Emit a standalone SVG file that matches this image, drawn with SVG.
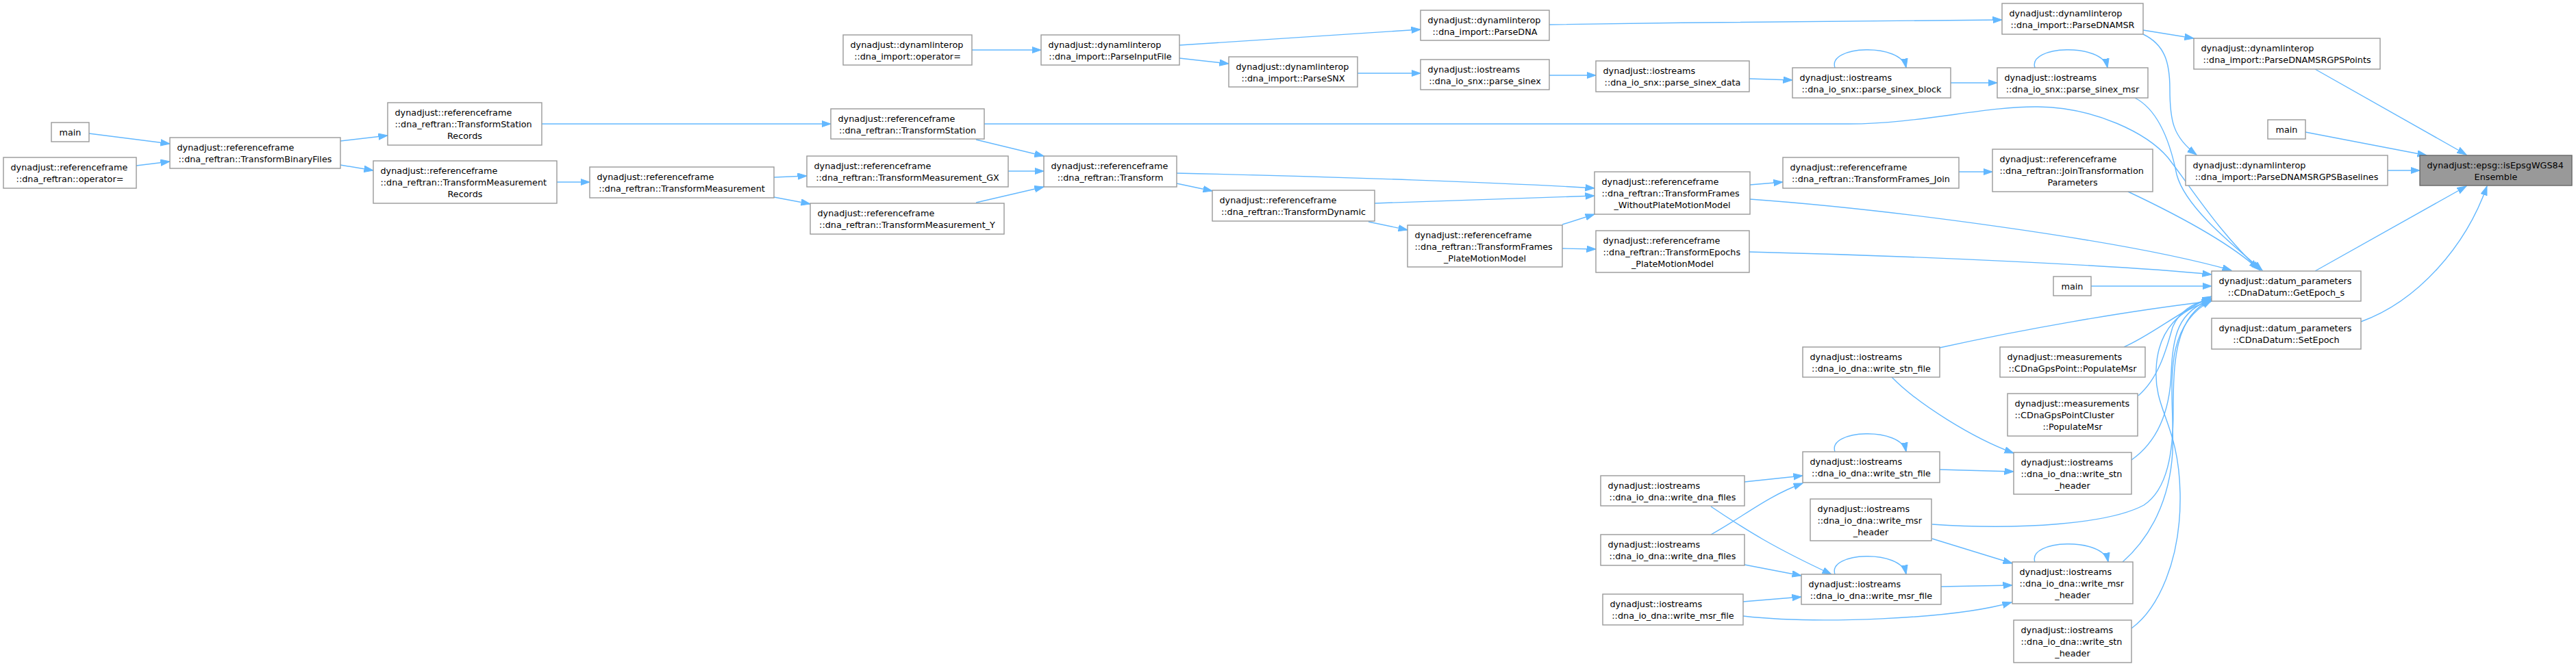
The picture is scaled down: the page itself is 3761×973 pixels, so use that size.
<svg xmlns="http://www.w3.org/2000/svg" width="3761" height="973" viewBox="0 0 3761 973">
<style>
.n rect{fill:#ffffff;stroke:#999999;stroke-width:1.4}
.root rect{fill:#999999;stroke:#666666;stroke-width:1.4}
text{font-family:"DejaVu Sans","Liberation Sans",sans-serif;font-size:12.8px;fill:#000000}
.c{text-anchor:middle}
.e path{fill:none;stroke:#63b8ff;stroke-width:1.4;marker-end:url(#ah)}
</style>
<defs>
<marker id="ah" markerWidth="15" markerHeight="11" refX="13.5" refY="5" orient="auto" markerUnits="userSpaceOnUse">
<path d="M0,0.3 L13.5,5 L0,9.7 z" fill="#63b8ff" stroke="#63b8ff" stroke-width="1"/>
</marker>
</defs>
<rect x="0" y="0" width="3761" height="973" fill="#ffffff"/>
<g id="edges" class="e">
<path d="M130,195 L248,210"/>
<path d="M199,242 L248,236"/>
<path d="M497,206 L566,198"/>
<path d="M497,241 L545,249"/>
<path d="M813,266 L861,266"/>
<path d="M791,181 L1213,181"/>
<path d="M1437,181 L2700,181 C2800,181 2900,155 2975,156 C3060,157 3135,195 3165,230 C3200,275 3240,340 3300,395"/>
<path d="M1425,204 L1524,228"/>
<path d="M1130,259 L1178,257"/>
<path d="M1130,288 L1183,298"/>
<path d="M1472,250 L1524,250"/>
<path d="M1425,296 L1524,273"/>
<path d="M1718,253 C1950,258 2200,267 2328,275"/>
<path d="M1718,268 L1770,279"/>
<path d="M2007,297 L2328,286"/>
<path d="M1998,324 L2055,336"/>
<path d="M2281,328 L2328,313"/>
<path d="M2281,363 L2330,364"/>
<path d="M2555,270 L2603,266"/>
<path d="M2555,291 C2750,305 3100,350 3258,395"/>
<path d="M2554,368 C2800,374 3100,388 3229,401"/>
<path d="M2860,251 L2909,251"/>
<path d="M3107,280 C3160,305 3250,350 3297,393"/>
<path d="M3053,418 L3229,418"/>
<path d="M1722,66 L2074,43"/>
<path d="M1722,85 L1794,93"/>
<path d="M1419,73 L1520,73"/>
<path d="M2262,36 C2500,32 2800,30 2923,29"/>
<path d="M1982,107 L2074,107"/>
<path d="M2262,110 L2330,110"/>
<path d="M2554,115 L2617,117"/>
<path d="M2679,99 C2668,66 2776,62 2783,99"/>
<path d="M2848,121 L2916,121"/>
<path d="M2971,99 C2960,66 3070,62 3077,99"/>
<path d="M3117,143 C3150,160 3168,205 3178,255 C3190,300 3250,350 3303,395"/>
<path d="M3129,44 L3203,56"/>
<path d="M3129,50 C3160,65 3168,90 3168,130 C3168,175 3172,200 3207,226"/>
<path d="M3380,101 L3601,226"/>
<path d="M3366,193 L3543,227"/>
<path d="M3486,249 L3533,249"/>
<path d="M3380,396 L3601,272"/>
<path d="M3447,470 C3530,440 3600,360 3631,272"/>
<path d="M2832,508 C2950,482 3100,455 3228,440"/>
<path d="M2762,551 C2800,590 2880,640 2940,662"/>
<path d="M3101,507 C3140,490 3175,460 3229,433"/>
<path d="M3122,578 C3152,552 3163,510 3172,478 C3182,455 3200,443 3229,436"/>
<path d="M3112,672 C3150,645 3168,600 3170,545 C3172,490 3180,455 3229,437"/>
<path d="M2821,766 C2950,775 3080,765 3130,738 C3165,715 3173,660 3173,600 C3173,530 3175,460 3229,438"/>
<path d="M3099,821 C3140,785 3168,730 3172,660 C3176,580 3150,480 3229,439"/>
<path d="M3112,918 C3150,890 3185,820 3183,720 C3181,620 3145,600 3148,540 C3150,480 3185,450 3229,440"/>
<path d="M2832,686 L2940,689"/>
<path d="M2679,660 C2668,627 2776,623 2783,660"/>
<path d="M2547,704 L2632,695"/>
<path d="M2498,740 C2550,775 2590,800 2674,839"/>
<path d="M2498,781 C2545,755 2580,725 2632,706"/>
<path d="M2547,825 L2630,841"/>
<path d="M2545,879 L2630,872"/>
<path d="M2545,900 C2650,912 2850,905 2937,880"/>
<path d="M2834,857 L2938,855"/>
<path d="M2679,839 C2668,806 2776,802 2783,839"/>
<path d="M2821,787 L2938,823"/>
<path d="M2971,821 C2960,788 3071,784 3078,821"/>
</g>
<g id="n_main1" class="n"><rect x="75" y="179" width="55" height="28"/><text class="c" x="102.5" y="198">main</text></g>
<g id="n_refop" class="n"><rect x="5" y="230" width="194" height="45"/><text x="15.5" y="249">dynadjust::referenceframe</text><text class="c" x="102" y="266">::dna_reftran::operator=</text></g>
<g id="n_tbf" class="n"><rect x="248" y="201" width="249" height="45"/><text x="258.5" y="220">dynadjust::referenceframe</text><text class="c" x="372.5" y="237">::dna_reftran::TransformBinaryFiles</text></g>
<g id="n_tsr" class="n"><rect x="566" y="150" width="225" height="62"/><text x="576.5" y="169">dynadjust::referenceframe</text><text x="576.5" y="186">::dna_reftran::TransformStation</text><text class="c" x="678.5" y="203">Records</text></g>
<g id="n_tmr" class="n"><rect x="545" y="235" width="268" height="62"/><text x="555.5" y="254">dynadjust::referenceframe</text><text x="555.5" y="271">::dna_reftran::TransformMeasurement</text><text class="c" x="679" y="288">Records</text></g>
<g id="n_tm" class="n"><rect x="861" y="244" width="269" height="45"/><text x="871.5" y="263">dynadjust::referenceframe</text><text class="c" x="995.5" y="280">::dna_reftran::TransformMeasurement</text></g>
<g id="n_impop" class="n"><rect x="1231" y="51" width="188" height="44"/><text x="1241.5" y="69.5">dynadjust::dynamlinterop</text><text class="c" x="1325" y="86.5">::dna_import::operator=</text></g>
<g id="n_pif" class="n"><rect x="1520" y="51" width="202" height="44"/><text x="1530.5" y="69.5">dynadjust::dynamlinterop</text><text class="c" x="1621" y="86.5">::dna_import::ParseInputFile</text></g>
<g id="n_ts" class="n"><rect x="1213" y="159" width="224" height="44"/><text x="1223.5" y="177.5">dynadjust::referenceframe</text><text class="c" x="1325" y="194.5">::dna_reftran::TransformStation</text></g>
<g id="n_tmgx" class="n"><rect x="1178" y="228" width="294" height="45"/><text x="1188.5" y="247">dynadjust::referenceframe</text><text class="c" x="1325" y="264">::dna_reftran::TransformMeasurement_GX</text></g>
<g id="n_tmy" class="n"><rect x="1183" y="297" width="283" height="45"/><text x="1193.5" y="316">dynadjust::referenceframe</text><text class="c" x="1324.5" y="333">::dna_reftran::TransformMeasurement_Y</text></g>
<g id="n_tr" class="n"><rect x="1524" y="228" width="194" height="45"/><text x="1534.5" y="247">dynadjust::referenceframe</text><text class="c" x="1621" y="264">::dna_reftran::Transform</text></g>
<g id="n_psnx" class="n"><rect x="1794" y="83" width="188" height="44"/><text x="1804.5" y="101.5">dynadjust::dynamlinterop</text><text class="c" x="1888" y="118.5">::dna_import::ParseSNX</text></g>
<g id="n_tdyn" class="n"><rect x="1770" y="278" width="237" height="45"/><text x="1780.5" y="297">dynadjust::referenceframe</text><text class="c" x="1888.5" y="314">::dna_reftran::TransformDynamic</text></g>
<g id="n_pdna" class="n"><rect x="2074" y="15" width="188" height="44"/><text x="2084.5" y="33.5">dynadjust::dynamlinterop</text><text class="c" x="2168" y="50.5">::dna_import::ParseDNA</text></g>
<g id="n_psin" class="n"><rect x="2074" y="87" width="188" height="44"/><text x="2084.5" y="105.5">dynadjust::iostreams</text><text class="c" x="2168" y="122.5">::dna_io_snx::parse_sinex</text></g>
<g id="n_psd" class="n"><rect x="2330" y="89" width="224" height="45"/><text x="2340.5" y="108">dynadjust::iostreams</text><text class="c" x="2442" y="125">::dna_io_snx::parse_sinex_data</text></g>
<g id="n_psb" class="n"><rect x="2617" y="99" width="231" height="44"/><text x="2627.5" y="117.5">dynadjust::iostreams</text><text class="c" x="2732.5" y="134.5">::dna_io_snx::parse_sinex_block</text></g>
<g id="n_tfwo" class="n"><rect x="2328" y="251" width="227" height="62"/><text x="2338.5" y="270">dynadjust::referenceframe</text><text x="2338.5" y="287">::dna_reftran::TransformFrames</text><text class="c" x="2441.5" y="304">_WithoutPlateMotionModel</text></g>
<g id="n_tfpmm" class="n"><rect x="2055" y="329" width="226" height="61"/><text x="2065.5" y="347.5">dynadjust::referenceframe</text><text x="2065.5" y="364.5">::dna_reftran::TransformFrames</text><text class="c" x="2168" y="381.5">_PlateMotionModel</text></g>
<g id="n_tepmm" class="n"><rect x="2330" y="337" width="224" height="61"/><text x="2340.5" y="355.5">dynadjust::referenceframe</text><text x="2340.5" y="372.5">::dna_reftran::TransformEpochs</text><text class="c" x="2442" y="389.5">_PlateMotionModel</text></g>
<g id="n_tfj" class="n"><rect x="2603" y="230" width="257" height="45"/><text x="2613.5" y="249">dynadjust::referenceframe</text><text class="c" x="2731.5" y="266">::dna_reftran::TransformFrames_Join</text></g>
<g id="n_pmsr" class="n"><rect x="2923" y="5" width="206" height="45"/><text x="2933.5" y="24">dynadjust::dynamlinterop</text><text class="c" x="3026" y="41">::dna_import::ParseDNAMSR</text></g>
<g id="n_gpsp" class="n"><rect x="3203" y="56" width="272" height="45"/><text x="3213.5" y="75">dynadjust::dynamlinterop</text><text class="c" x="3339" y="92">::dna_import::ParseDNAMSRGPSPoints</text></g>
<g id="n_psm" class="n"><rect x="2916" y="99" width="220" height="44"/><text x="2926.5" y="117.5">dynadjust::iostreams</text><text class="c" x="3026" y="134.5">::dna_io_snx::parse_sinex_msr</text></g>
<g id="n_main2" class="n"><rect x="3311" y="175" width="55" height="28"/><text class="c" x="3338.5" y="194">main</text></g>
<g id="n_gpsb" class="n"><rect x="3191" y="227" width="295" height="44"/><text x="3201.5" y="245.5">dynadjust::dynamlinterop</text><text class="c" x="3338.5" y="262.5">::dna_import::ParseDNAMSRGPSBaselines</text></g>
<g id="n_root" class="root"><rect x="3533" y="227" width="222" height="44"/><text x="3543.5" y="245.5">dynadjust::epsg::isEpsgWGS84</text><text class="c" x="3644" y="262.5">Ensemble</text></g>
<g id="n_jtp" class="n"><rect x="2909" y="218" width="234" height="62"/><text x="2919.5" y="237">dynadjust::referenceframe</text><text x="2919.5" y="254">::dna_reftran::JoinTransformation</text><text class="c" x="3026" y="271">Parameters</text></g>
<g id="n_main3" class="n"><rect x="2998" y="404" width="55" height="28"/><text class="c" x="3025.5" y="423">main</text></g>
<g id="n_ge" class="n"><rect x="3229" y="396" width="218" height="44"/><text x="3239.5" y="414.5">dynadjust::datum_parameters</text><text class="c" x="3338" y="431.5">::CDnaDatum::GetEpoch_s</text></g>
<g id="n_se" class="n"><rect x="3229" y="465" width="218" height="45"/><text x="3239.5" y="484">dynadjust::datum_parameters</text><text class="c" x="3338" y="501">::CDnaDatum::SetEpoch</text></g>
<g id="n_wsf1" class="n"><rect x="2632" y="507" width="200" height="44"/><text x="2642.5" y="525.5">dynadjust::iostreams</text><text class="c" x="2732" y="542.5">::dna_io_dna::write_stn_file</text></g>
<g id="n_wsf2" class="n"><rect x="2632" y="660" width="200" height="45"/><text x="2642.5" y="679">dynadjust::iostreams</text><text class="c" x="2732" y="696">::dna_io_dna::write_stn_file</text></g>
<g id="n_wdf1" class="n"><rect x="2337" y="695" width="210" height="44"/><text x="2347.5" y="713.5">dynadjust::iostreams</text><text class="c" x="2442" y="730.5">::dna_io_dna::write_dna_files</text></g>
<g id="n_wdf2" class="n"><rect x="2337" y="781" width="210" height="45"/><text x="2347.5" y="800">dynadjust::iostreams</text><text class="c" x="2442" y="817">::dna_io_dna::write_dna_files</text></g>
<g id="n_wmh1" class="n"><rect x="2643" y="729" width="177" height="61"/><text x="2653.5" y="747.5">dynadjust::iostreams</text><text x="2653.5" y="764.5">::dna_io_dna::write_msr</text><text class="c" x="2731.5" y="781.5">_header</text></g>
<g id="n_wmf1" class="n"><rect x="2630" y="839" width="204" height="44"/><text x="2640.5" y="857.5">dynadjust::iostreams</text><text class="c" x="2732" y="874.5">::dna_io_dna::write_msr_file</text></g>
<g id="n_wmf2" class="n"><rect x="2340" y="868" width="205" height="45"/><text x="2350.5" y="887">dynadjust::iostreams</text><text class="c" x="2442.5" y="904">::dna_io_dna::write_msr_file</text></g>
<g id="n_gpp" class="n"><rect x="2920" y="507" width="212" height="44"/><text x="2930.5" y="525.5">dynadjust::measurements</text><text class="c" x="3026" y="542.5">::CDnaGpsPoint::PopulateMsr</text></g>
<g id="n_gpc" class="n"><rect x="2931" y="575" width="190" height="62"/><text x="2941.5" y="594">dynadjust::measurements</text><text x="2941.5" y="611">::CDnaGpsPointCluster</text><text class="c" x="3026" y="628">::PopulateMsr</text></g>
<g id="n_wsh1" class="n"><rect x="2940" y="661" width="172" height="61"/><text x="2950.5" y="679.5">dynadjust::iostreams</text><text x="2950.5" y="696.5">::dna_io_dna::write_stn</text><text class="c" x="3026" y="713.5">_header</text></g>
<g id="n_wmh2" class="n"><rect x="2938" y="821" width="176" height="61"/><text x="2948.5" y="839.5">dynadjust::iostreams</text><text x="2948.5" y="856.5">::dna_io_dna::write_msr</text><text class="c" x="3026" y="873.5">_header</text></g>
<g id="n_wsh2" class="n"><rect x="2940" y="906" width="172" height="62"/><text x="2950.5" y="925">dynadjust::iostreams</text><text x="2950.5" y="942">::dna_io_dna::write_stn</text><text class="c" x="3026" y="959">_header</text></g>
</svg>
